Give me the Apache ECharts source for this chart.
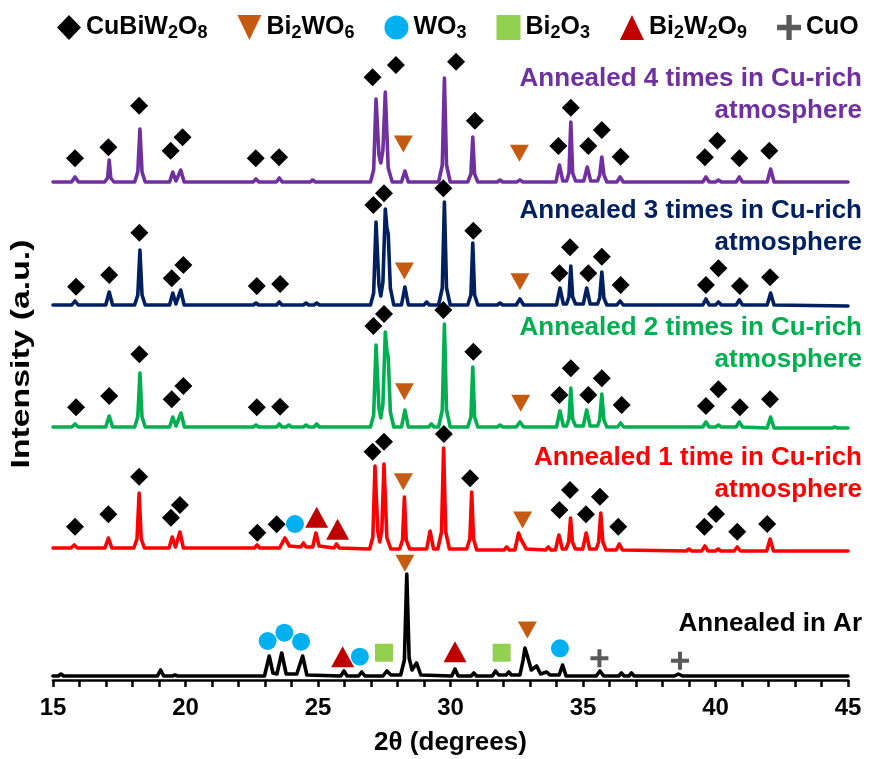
<!DOCTYPE html>
<html><head><meta charset="utf-8">
<script src="https://cdn.jsdelivr.net/npm/echarts@6/dist/echarts.min.js"></script>
<style>html,body{margin:0;padding:0;background:#fff}#c{width:873px;height:759px}</style>
</head><body><div id="c"></div>
<script>
// ---------- DATA (2θ in degrees, intensity in arbitrary stacked units) ----------
const xTicks = [15, 20, 25, 30, 35, 40, 45];

const cu4 = [[15,498],[15.7,498],[15.83,503],[15.96,498],[16.95,498],[17.06,502],[17.12,520],[17.18,502],[17.3,498],
 [18.08,498],[18.2,508],[18.28,551],[18.36,508],[18.48,498],[19.4,498],[19.52,508],[19.64,499],[19.7,499],[19.82,510],[19.95,498],
 [22.55,498],[22.66,501],[22.77,498],[23.43,498],[23.54,502],[23.65,498],[24.7,498],[24.8,500],[24.9,498],
 [26.98,498],[27.1,510],[27.19,581],[27.3,525],[27.37,517],[27.45,530],[27.54,588],[27.65,512],[27.8,498],
 [28.15,498],[28.28,509],[28.41,498],[29.55,498],[29.69,515],[29.77,602],[29.85,515],[29.99,498],
 [30.65,498],[30.77,506],[30.84,543],[30.91,506],[31.03,498],[31.77,498],[31.87,500],[31.97,498],[32.5,498],[32.62,500],[32.74,498],
 [33.98,498],[34.11,515],[34.24,499],[34.38,499],[34.47,507],[34.54,558],[34.61,507],[34.72,499],
 [35.03,499],[35.16,513],[35.29,499],[35.55,499],[35.63,505],[35.71,523],[35.79,505],[35.9,498],
 [36.28,498],[36.4,503],[36.52,498],[39.52,498],[39.64,503],[39.76,498],[40.0,498],[40.11,500],[40.22,498],
 [40.78,498],[40.9,503],[41.02,498],[41.95,498],[42.08,511],[42.21,498],[45,498]];

const cu3 = [[15,375],[15.71,375],[15.83,379],[15.95,375],[16.99,375],[17.12,388],[17.25,375],
 [18.08,375],[18.2,385],[18.28,430],[18.36,385],[18.48,375],[19.4,375],[19.52,387],[19.64,376],[19.7,376],[19.82,390],[19.95,375],
 [22.56,375],[22.66,377],[22.76,375],[23.44,375],[23.54,378],[23.64,375],[24.45,375],[24.55,377],[24.65,375],[24.85,375],[24.95,377],[25.05,375],
 [26.98,375],[27.1,387],[27.19,458],[27.3,395],[27.37,384],[27.45,398],[27.54,471],[27.6,452],[27.65,446],[27.73,392],[27.86,375],
 [28.15,375],[28.28,393],[28.41,375],[29.0,375],[29.1,378],[29.2,375],[29.55,375],[29.69,392],[29.77,478],[29.85,392],[29.99,375],
 [30.65,375],[30.77,385],[30.84,437],[30.91,385],[31.03,375],[31.77,375],[31.87,377],[31.97,375],[32.48,375],[32.62,381],[32.76,375],
 [34.0,375],[34.13,392],[34.26,376],[34.38,376],[34.47,383],[34.54,414],[34.61,383],[34.72,376],
 [35.01,376],[35.14,392],[35.27,376],[35.55,376],[35.63,382],[35.71,408],[35.79,382],[35.9,375],
 [36.28,375],[36.4,379],[36.52,375],[39.52,375],[39.64,381],[39.76,375],[40.0,375],[40.11,378],[40.22,375],
 [40.78,375],[40.9,380],[41.02,375],[41.95,375],[42.08,387],[42.21,375],[45,374]];

const cu2 = [[15,253],[15.71,253],[15.83,256],[15.95,253],[16.99,253],[17.12,264],[17.25,253],
 [18.08,253],[18.2,263],[18.28,307],[18.36,263],[18.48,253],[19.4,253],[19.52,263],[19.64,254],[19.7,254],[19.83,267],[19.96,253],
 [22.56,253],[22.66,255],[22.76,253],[23.44,253],[23.54,256],[23.64,253],[23.8,253],[23.9,255],[24.0,253],
 [24.45,253],[24.55,255],[24.65,253],[24.85,253],[24.95,256],[25.05,253],
 [26.98,253],[27.1,265],[27.19,335],[27.3,272],[27.37,262],[27.45,276],[27.54,348],[27.6,329],[27.65,323],[27.73,268],[27.86,253],
 [28.15,253],[28.28,270],[28.41,253],[29.18,253],[29.28,256],[29.38,253],[29.55,253],[29.69,270],[29.77,356],[29.85,270],[29.99,253],
 [30.65,253],[30.77,263],[30.84,313],[30.91,263],[31.03,253],[31.77,253],[31.87,255],[31.97,253],[32.48,253],[32.62,258],[32.76,253],
 [34.0,253],[34.13,269],[34.26,254],[34.38,254],[34.47,261],[34.54,292],[34.61,261],[34.72,254],
 [35.01,254],[35.14,270],[35.27,254],[35.55,254],[35.63,260],[35.71,286],[35.79,260],[35.9,253],
 [36.3,253],[36.42,257],[36.54,253],[39.52,253],[39.64,258],[39.76,253],[40.0,253],[40.11,255],[40.22,253],
 [40.78,253],[40.9,258],[41.02,253],[41.95,252],[42.08,263],[42.21,252],[44.4,252],[44.5,253],[44.6,252],[45,252]];

const cu1 = [[15,132],[15.68,132],[15.8,135],[15.92,132],[16.96,132],[17.09,142],[17.22,132],
 [18.05,132],[18.17,141],[18.25,187],[18.33,141],[18.45,132],[19.38,132],[19.5,143],[19.62,133],[19.68,133],[19.79,148],[19.92,132],
 [22.6,132],[22.7,135],[22.8,132],[23.55,132],[23.75,142],[23.92,134],[24.35,133],[24.45,137],[24.55,133],
 [24.8,133],[24.92,147],[25.04,134],[25.6,132],[25.7,136],[25.8,132],
 [26.95,131],[27.07,143],[27.15,214],[27.26,148],[27.33,138],[27.41,150],[27.49,216],[27.6,142],[27.75,131],
 [28.08,131],[28.19,140],[28.26,183],[28.33,140],[28.46,131],[29.1,131],[29.23,149],[29.36,131],
 [29.52,131],[29.66,148],[29.74,232],[29.82,148],[29.96,131],[30.61,131],[30.73,141],[30.8,188],[30.87,141],[30.99,130],
 [32.02,130],[32.12,133],[32.22,130],[32.43,130],[32.57,147],[32.65,141],[32.72,140],[32.86,131],[33.59,130],[33.69,133],[33.79,130],
 [33.96,130],[34.09,145],[34.22,131],[34.36,131],[34.46,138],[34.53,162],[34.6,138],[34.71,131],
 [34.99,131],[35.12,147],[35.25,131],[35.5,131],[35.59,138],[35.67,167],[35.75,138],[35.87,130],
 [36.25,130],[36.37,136],[36.49,130],[38.9,129],[39.0,131],[39.1,129],[39.48,129],[39.6,134],[39.72,129],
 [40.0,129],[40.1,131],[40.2,129],[40.7,129],[40.82,133],[40.94,129],[41.93,129],[42.06,141],[42.19,129],[45,129]];

const ar = [[15,4],[15.2,4],[15.3,6],[15.4,4],[18.94,4],[19.06,10],[19.18,4],[19.5,4],[19.6,5],[19.7,4],
 [22.98,4],[23.16,24],[23.3,7],[23.45,6],[23.63,27],[23.8,6],[24.2,6],[24.42,24],[24.58,5],
 [25.86,4],[25.98,9],[26.1,4],[26.53,4],[26.65,8],[26.77,4],[27.45,4],[27.6,9],[27.75,5],
 [28.12,5],[28.26,20],[28.35,106],[28.44,22],[28.55,10],[28.72,17],[28.88,5],
 [30.05,4],[30.17,11],[30.29,4],[30.78,4],[30.88,7],[30.98,4],[31.58,4],[31.7,9],[31.82,5],[32.1,5],[32.2,8],[32.3,5],
 [32.62,5],[32.74,20],[32.81,32],[32.9,24],[33.05,10],[33.25,14],[33.4,6],[33.63,8],[33.75,5],
 [34.1,5],[34.23,15],[34.36,4],[35.5,4],[35.64,9],[35.78,4],[36.35,4],[36.45,7],[36.55,4],[36.73,4],[36.83,7],[36.93,4],
 [38.45,4],[38.6,6],[38.75,4],[45,4]];

// phase markers [2θ, position]
const markCuBiW2O8 = [
 [15.83,521.7],[17.09,532.7],[18.25,574.3],[19.44,529.3],[19.89,542.7],[22.65,521.7],[23.53,522.7],[27.06,602.7],[27.94,615],[30.21,618.3],
 [30.92,559.3],[34.07,534],[34.54,572.3],[35.2,534],[35.71,550],[36.42,523.3],[39.6,522.7],[40.07,539.3],[40.9,521.7],[42.03,529.3],
 [15.87,393.3],[17.12,405],[18.26,447.3],[19.48,401.7],[19.92,415],[22.69,394],[23.57,396],[27.09,475],[27.49,486.7],[29.73,491.7],
 [30.86,449.3],[34.11,406.7],[34.51,432.7],[35.2,406.7],[35.71,423.3],[36.42,395],[39.64,395],[40.11,411.7],[40.92,394],[42.06,402.7],
 [15.87,272.7],[17.12,284],[18.26,325.7],[19.48,280.7],[19.92,294],[22.69,272.7],[23.57,273.3],[27.09,354],[27.49,366],[29.73,370],
 [30.86,328.3],[34.11,285],[34.54,311.7],[35.2,285],[35.71,301.7],[36.46,275],[39.64,274],[40.11,290.7],[40.92,272.7],[42.06,280.7],
 [15.83,153.3],[17.09,165.7],[18.25,203.3],[19.45,162.3],[19.79,175],[22.71,147.3],[23.44,155.7],[27.06,228.3],[27.49,238.3],[29.75,246],
 [30.74,201.7],[34.11,170],[34.51,190],[35.11,165.7],[35.64,183.3],[36.33,153.3],[39.58,153.3],[40.02,166],[40.82,148.3],[41.95,156]];
const markBi2WO6 = [[28.22,536],[32.6,526.7],[28.26,409],[32.62,398.3],[28.26,288.3],[32.65,276.7],[28.22,198.3],[32.72,160],[28.28,116.7],[32.9,50]];
const markWO3 = [[24.13,156],[23.1,39],[23.73,47.3],[24.36,38.3],[26.58,23.3],[34.13,31.7]];
const markBi2O3 = [[27.49,27.3],[31.93,27.3]];
const markBi2W2O9 = [[24.95,162.7],[25.74,150.7],[25.93,23.3],[30.17,28.3]];
const markCuO = [[35.62,21.7],[38.66,19.3]];

const sampleText = [
  ['Annealed 4 times in Cu-rich', 'atmosphere'],
  ['Annealed 3 times in Cu-rich', 'atmosphere'],
  ['Annealed 2 times in Cu-rich', 'atmosphere'],
  ['Annealed 1 time in Cu-rich', 'atmosphere'],
  ['Annealed in Ar']
];
const phaseNames = ['CuBiW2O8', 'Bi2WO6', 'WO3', 'Bi2O3', 'Bi2W2O9', 'CuO'];
const phaseRich = ['{m|CuBiW}{s|2}{m|O}{s|8}', '{m|Bi}{s|2}{m|WO}{s|6}', '{m|WO}{s|3}', '{m|Bi}{s|2}{m|O}{s|3}', '{m|Bi}{s|2}{m|W}{s|2}{m|O}{s|9}', '{m|CuO}'];

// ---------- STYLE ----------
const FONT = '"Liberation Sans", Arial, Helvetica, sans-serif';
const lineColors = ['#7030A0', '#002060', '#00B050', '#FF0000', '#000000'];
const patterns = [cu4, cu3, cu2, cu1, ar];
const PLUS = 'path://M7,0H11V7H18V11H11V18H7V11H0V7H7Z';
const INVTRI = 'path://M0,0L10,0L5,10Z';
const phaseStyle = [
  {data: markCuBiW2O8, symbol: 'diamond', size: 18, color: '#000000'},
  {data: markBi2WO6, symbol: INVTRI, size: [19, 17], color: '#C55A11'},
  {data: markWO3, symbol: 'circle', size: 18, color: '#00B0F0'},
  {data: markBi2O3, symbol: 'rect', size: 18, color: '#92D050'},
  {data: markBi2W2O9, symbol: 'triangle', size: [23, 21], color: '#C00000'},
  {data: markCuO, symbol: PLUS, size: 18, color: '#595959'}
];
const labelY = [[79, 111], [211, 243], [328, 360], [458, 490], [624]];

const series = [];
patterns.forEach((p, i) => series.push({
  type: 'line', name: 'pattern' + i, data: p, showSymbol: false, symbol: 'none', silent: true, z: 2,
  lineStyle: {color: lineColors[i], width: 3.6, join: 'round', cap: 'round'}
}));
phaseStyle.forEach((ph, i) => series.push({
  type: 'scatter', name: phaseNames[i], data: ph.data, symbol: ph.symbol, symbolSize: ph.size, z: 3, silent: true,
  itemStyle: {color: ph.color, opacity: 1}
}));

const graphic = [];
sampleText.forEach((lines, i) => lines.forEach((t, j) => graphic.push({
  type: 'text', x: 862, y: labelY[i][j], silent: true,
  style: {text: t, fill: lineColors[i], font: 'bold 26px ' + FONT, textAlign: 'right', textVerticalAlign: 'middle'}
})));
graphic.push({
  type: 'text', x: 22, y: 354, rotation: Math.PI / 2, scaleX: 1.35, silent: true,
  style: {text: 'Intensity (a.u.)', fill: '#000', font: 'bold 25px ' + FONT, textAlign: 'center', textVerticalAlign: 'middle'}
});

const chart = echarts.init(document.getElementById('c'), null, {renderer: 'canvas'});
chart.setOption({
  animation: false,
  backgroundColor: '#ffffff',
  grid: {left: 53, right: 25, top: 20, bottom: 79, containLabel: false, outerBoundsMode: 'none'},
  legend: {
    data: phaseNames.map((n, i) => ({name: n, icon: phaseStyle[i].symbol})),
    left: 52, top: 10, itemWidth: 24, itemHeight: 25, itemGap: 30, symbolKeepAspect: false,
    selectedMode: false,
    formatter: n => phaseRich[phaseNames.indexOf(n)],
    textStyle: {
      color: '#000',
      rich: {
        m: {fontSize: 25, fontWeight: 'bold', fontFamily: FONT, color: '#000', lineHeight: 30},
        s: {fontSize: 18, fontWeight: 'bold', fontFamily: FONT, color: '#000', lineHeight: 14, verticalAlign: 'bottom'}
      }
    }
  },
  xAxis: {
    type: 'value', min: xTicks[0], max: xTicks[xTicks.length - 1], interval: 5,
    axisLine: {show: true, onZero: false, lineStyle: {color: '#000', width: 2.5}},
    axisTick: {show: true, inside: false, length: 7, lineStyle: {color: '#000', width: 2.5}},
    minorTick: {show: true, splitNumber: 5, length: 7, lineStyle: {color: '#000', width: 2.5}},
    splitLine: {show: false},
    axisLabel: {fontSize: 24, fontWeight: 'bold', fontFamily: FONT, color: '#000', margin: 16},
    name: '2θ (degrees)', nameLocation: 'middle', nameGap: 50,
    nameTextStyle: {fontSize: 26, fontWeight: 'bold', fontFamily: FONT, color: '#000'}
  },
  yAxis: {
    type: 'value', min: 0, max: 660,
    axisLine: {show: false}, axisTick: {show: false}, axisLabel: {show: false}, splitLine: {show: false}
  },
  series: series,
  graphic: graphic
});
</script></body></html>
